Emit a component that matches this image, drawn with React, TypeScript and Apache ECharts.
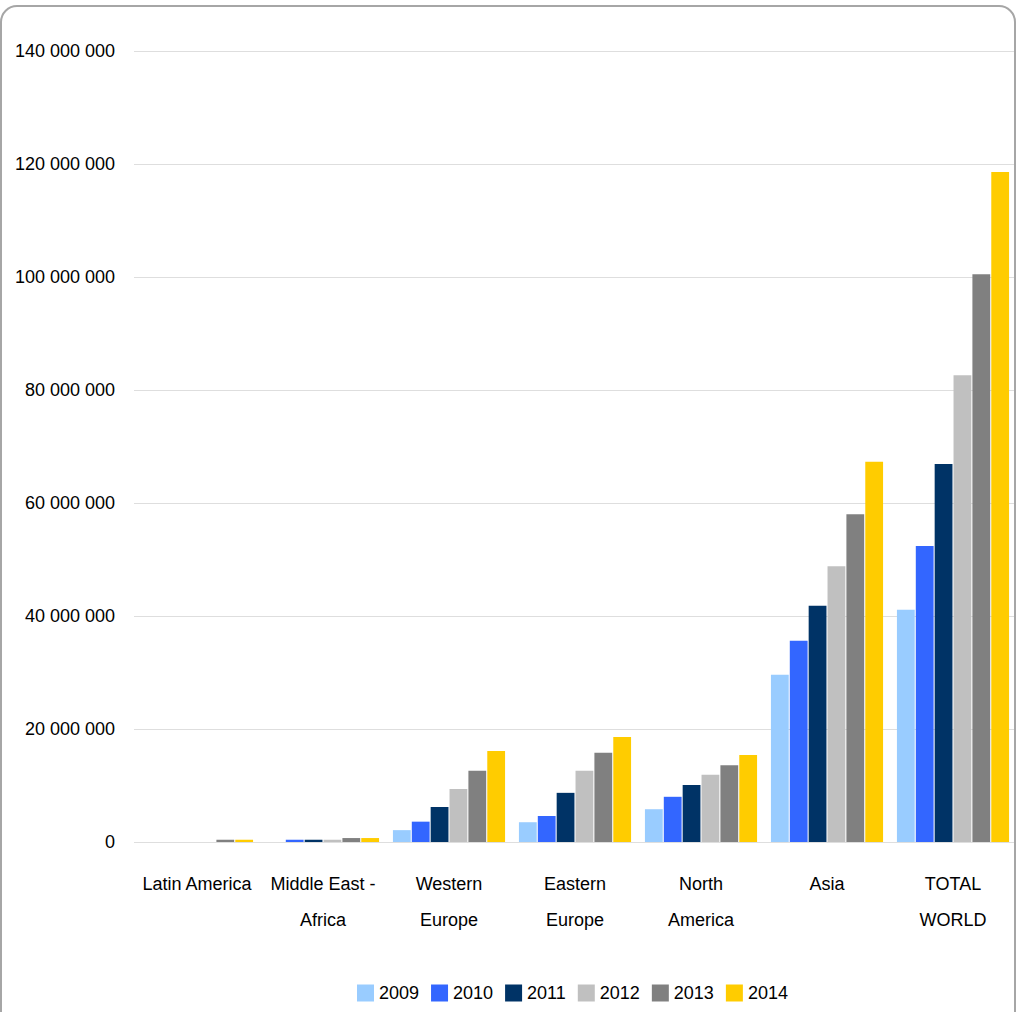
import React, { useEffect, useRef } from "react";
import * as echarts from "echarts";

const categories = [
  "Latin America",
  "Middle East -\nAfrica",
  "Western\nEurope",
  "Eastern\nEurope",
  "North\nAmerica",
  "Asia",
  "TOTAL\nWORLD",
];

const years = ["2009", "2010", "2011", "2012", "2013", "2014"];
const colors = ["#99ccff", "#3366ff", "#003366", "#c0c0c0", "#808080", "#ffcc00"];

const v2009 = [0, 0, 2100000, 3500000, 5800000, 29600000, 41100000];
const v2010 = [0, 400000, 3600000, 4600000, 8000000, 35600000, 52400000];
const v2011 = [0, 400000, 6200000, 8700000, 10100000, 41800000, 66900000];
const v2012 = [0, 400000, 9400000, 12600000, 11900000, 48800000, 82600000];
const v2013 = [400000, 700000, 12600000, 15800000, 13600000, 58000000, 100500000];
const v2014 = [400000, 700000, 16100000, 18600000, 15400000, 67300000, 118600000];
const seriesValues = [v2009, v2010, v2011, v2012, v2013, v2014];

const FONT = "'Liberation Sans', Arial, sans-serif";

function fmt(v: number): string {
  return String(Math.round(v)).replace(/\B(?=(\d{3})+(?!\d))/g, " ");
}

export default function App() {
  const ref = useRef<HTMLDivElement>(null);
  useEffect(() => {
    document.body.style.margin = "0";
    if (!ref.current) return;
    const chart = echarts.init(ref.current, undefined, { renderer: "svg" });
    chart.setOption({
      animation: false,
      backgroundColor: "#ffffff",
      graphic: [
        {
          type: "rect",
          shape: { x: 1, y: 6, width: 1014, height: 1030, r: 16 },
          style: { fill: "none", stroke: "#a6a6a6", lineWidth: 2 },
          silent: true,
          z: 100,
        },
      ],
      grid: {
        left: 134,
        right: 1,
        top: 51,
        bottom: 170,
        containLabel: false,
        outerBoundsMode: "none",
      },
      legend: {
        left: 357,
        top: 984,
        padding: 0,
        itemWidth: 17,
        itemHeight: 17,
        itemGap: 12,
        icon: "rect",
        textStyle: { fontFamily: FONT, fontSize: 18, color: "#000" },
        data: years,
      },
      xAxis: {
        type: "category",
        data: categories,
        axisLine: { show: false },
        axisTick: { show: false },
        axisLabel: {
          interval: 0,
          fontFamily: FONT,
          fontSize: 18,
          color: "#000",
          lineHeight: 36,
          margin: 24,
        },
      },
      yAxis: {
        type: "value",
        min: 0,
        max: 140000000,
        interval: 20000000,
        axisLine: { show: false },
        axisTick: { show: false },
        splitLine: { lineStyle: { color: "#dedede", width: 1 } },
        axisLabel: {
          formatter: (v: number) => fmt(v),
          fontFamily: FONT,
          fontSize: 18,
          color: "#000",
          margin: 19,
        },
      },
      series: years.map((y, i) => ({
        name: y,
        type: "bar",
        data: seriesValues[i],
        itemStyle: { color: colors[i] },
        barGap: "6%",
        barCategoryGap: "11%",
      })),
    });
    return () => chart.dispose();
  }, []);
  return <div ref={ref} style={{ width: 1017, height: 1012 }} />;
}
